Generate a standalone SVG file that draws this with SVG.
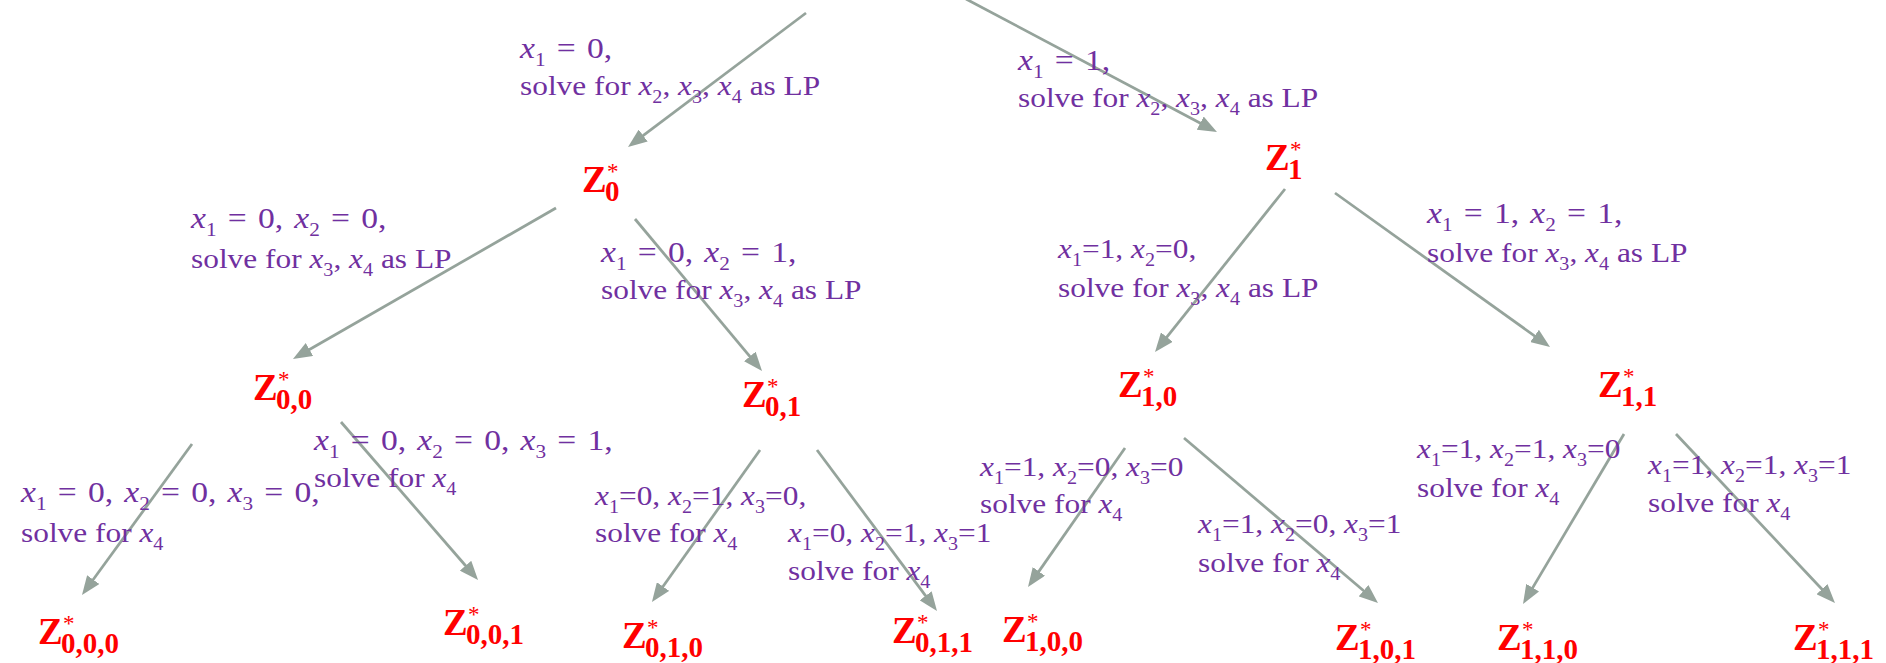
<svg xmlns="http://www.w3.org/2000/svg" width="1886" height="663" viewBox="0 0 1886 663">
<style>
.lbl text{font-family:'Liberation Serif','Times New Roman',serif;font-size:28px;fill:#7030A0}
.lbl text.m{font-size:30px;word-spacing:2.5px}
.i{font-style:italic}
.s{font-size:18px}
.m .s{font-size:19px}
.node text{font-family:'Liberation Serif','Times New Roman',serif;fill:#FF0000}
.z{font-size:37px;font-weight:bold}
.st{font-size:23px}
.zs{font-size:29px;font-weight:bold}
#connectors line{stroke:#95A39B;stroke-width:2.75;fill:none;marker-end:url(#ah)}
</style>
<defs>
<marker id="ah" markerUnits="userSpaceOnUse" markerWidth="19" markerHeight="15" viewBox="0 0 19 15" refX="11" refY="7.5" orient="auto">
<path d="M0,0 L19,7.5 L0,15 z" fill="#95A39B"/>
</marker>
</defs>
<rect width="1886" height="663" fill="#FFFFFF"/>

<g id="connectors">
<line x1="806" y1="13" x2="634.4" y2="142.2"/>
<line x1="966" y1="-1" x2="1209.9" y2="128.3"/>
<line x1="556" y1="208" x2="299.9" y2="355.0"/>
<line x1="635" y1="219" x2="756.9" y2="364.9"/>
<line x1="1285" y1="189" x2="1160.0" y2="345.7"/>
<line x1="1335" y1="193" x2="1543.5" y2="342.3"/>
<line x1="192" y1="444" x2="86.7" y2="588.5"/>
<line x1="341" y1="422" x2="472.8" y2="574.0"/>
<line x1="760" y1="450" x2="656.6" y2="595.5"/>
<line x1="817" y1="450" x2="932.2" y2="604.6"/>
<line x1="1125" y1="448" x2="1032.6" y2="580.4"/>
<line x1="1184" y1="438" x2="1371.9" y2="597.8"/>
<line x1="1624" y1="434" x2="1527.1" y2="597.1"/>
<line x1="1676" y1="434" x2="1829.5" y2="597.2"/>
</g>

<g id="edge-labels" class="lbl">
<g id="lbl-0" transform="translate(520 0) scale(1.12 1)">
<text y="58" class="m"><tspan class="i">x</tspan><tspan class="s" dy="8">1</tspan><tspan dy="-8"> = 0,</tspan></text>
<text y="95">solve for <tspan class="i">x</tspan><tspan class="s" dy="8">2</tspan><tspan dy="-8">, </tspan><tspan class="i">x</tspan><tspan class="s" dy="8">3</tspan><tspan dy="-8">, </tspan><tspan class="i">x</tspan><tspan class="s" dy="8">4</tspan><tspan dy="-8"> as LP</tspan></text>
</g>
<g id="lbl-1" transform="translate(1018 0) scale(1.12 1)">
<text y="70" class="m"><tspan class="i">x</tspan><tspan class="s" dy="8">1</tspan><tspan dy="-8"> = 1,</tspan></text>
<text y="107">solve for <tspan class="i">x</tspan><tspan class="s" dy="8">2</tspan><tspan dy="-8">, </tspan><tspan class="i">x</tspan><tspan class="s" dy="8">3</tspan><tspan dy="-8">, </tspan><tspan class="i">x</tspan><tspan class="s" dy="8">4</tspan><tspan dy="-8"> as LP</tspan></text>
</g>
<g id="lbl-00" transform="translate(191 0) scale(1.12 1)">
<text y="228" class="m"><tspan class="i">x</tspan><tspan class="s" dy="8">1</tspan><tspan dy="-8"> = 0, </tspan><tspan class="i">x</tspan><tspan class="s" dy="8">2</tspan><tspan dy="-8"> = 0,</tspan></text>
<text y="268">solve for <tspan class="i">x</tspan><tspan class="s" dy="8">3</tspan><tspan dy="-8">, </tspan><tspan class="i">x</tspan><tspan class="s" dy="8">4</tspan><tspan dy="-8"> as LP</tspan></text>
</g>
<g id="lbl-01" transform="translate(601 0) scale(1.12 1)">
<text y="262" class="m"><tspan class="i">x</tspan><tspan class="s" dy="8">1</tspan><tspan dy="-8"> = 0, </tspan><tspan class="i">x</tspan><tspan class="s" dy="8">2</tspan><tspan dy="-8"> = 1,</tspan></text>
<text y="299">solve for <tspan class="i">x</tspan><tspan class="s" dy="8">3</tspan><tspan dy="-8">, </tspan><tspan class="i">x</tspan><tspan class="s" dy="8">4</tspan><tspan dy="-8"> as LP</tspan></text>
</g>
<g id="lbl-10" transform="translate(1058 0) scale(1.12 1)">
<text y="258"><tspan class="i">x</tspan><tspan class="s" dy="8">1</tspan><tspan dy="-8">=1, </tspan><tspan class="i">x</tspan><tspan class="s" dy="8">2</tspan><tspan dy="-8">=0,</tspan></text>
<text y="297">solve for <tspan class="i">x</tspan><tspan class="s" dy="8">3</tspan><tspan dy="-8">, </tspan><tspan class="i">x</tspan><tspan class="s" dy="8">4</tspan><tspan dy="-8"> as LP</tspan></text>
</g>
<g id="lbl-11" transform="translate(1427 0) scale(1.12 1)">
<text y="223" class="m"><tspan class="i">x</tspan><tspan class="s" dy="8">1</tspan><tspan dy="-8"> = 1, </tspan><tspan class="i">x</tspan><tspan class="s" dy="8">2</tspan><tspan dy="-8"> = 1,</tspan></text>
<text y="262">solve for <tspan class="i">x</tspan><tspan class="s" dy="8">3</tspan><tspan dy="-8">, </tspan><tspan class="i">x</tspan><tspan class="s" dy="8">4</tspan><tspan dy="-8"> as LP</tspan></text>
</g>
<g id="lbl-000" transform="translate(21 0) scale(1.12 1)">
<text y="502" class="m"><tspan class="i">x</tspan><tspan class="s" dy="8">1</tspan><tspan dy="-8"> = 0, </tspan><tspan class="i">x</tspan><tspan class="s" dy="8">2</tspan><tspan dy="-8"> = 0, </tspan><tspan class="i">x</tspan><tspan class="s" dy="8">3</tspan><tspan dy="-8"> = 0,</tspan></text>
<text y="542">solve for <tspan class="i">x</tspan><tspan class="s" dy="8">4</tspan></text>
</g>
<g id="lbl-001" transform="translate(314 0) scale(1.12 1)">
<text y="450" class="m"><tspan class="i">x</tspan><tspan class="s" dy="8">1</tspan><tspan dy="-8"> = 0, </tspan><tspan class="i">x</tspan><tspan class="s" dy="8">2</tspan><tspan dy="-8"> = 0, </tspan><tspan class="i">x</tspan><tspan class="s" dy="8">3</tspan><tspan dy="-8"> = 1,</tspan></text>
<text y="487">solve for <tspan class="i">x</tspan><tspan class="s" dy="8">4</tspan></text>
</g>
<g id="lbl-010" transform="translate(595 0) scale(1.12 1)">
<text y="505"><tspan class="i">x</tspan><tspan class="s" dy="8">1</tspan><tspan dy="-8">=0, </tspan><tspan class="i">x</tspan><tspan class="s" dy="8">2</tspan><tspan dy="-8">=1, </tspan><tspan class="i">x</tspan><tspan class="s" dy="8">3</tspan><tspan dy="-8">=0,</tspan></text>
<text y="542">solve for <tspan class="i">x</tspan><tspan class="s" dy="8">4</tspan></text>
</g>
<g id="lbl-011" transform="translate(788 0) scale(1.12 1)">
<text y="542"><tspan class="i">x</tspan><tspan class="s" dy="8">1</tspan><tspan dy="-8">=0, </tspan><tspan class="i">x</tspan><tspan class="s" dy="8">2</tspan><tspan dy="-8">=1, </tspan><tspan class="i">x</tspan><tspan class="s" dy="8">3</tspan><tspan dy="-8">=1</tspan></text>
<text y="580">solve for <tspan class="i">x</tspan><tspan class="s" dy="8">4</tspan></text>
</g>
<g id="lbl-100" transform="translate(980 0) scale(1.12 1)">
<text y="476"><tspan class="i">x</tspan><tspan class="s" dy="8">1</tspan><tspan dy="-8">=1, </tspan><tspan class="i">x</tspan><tspan class="s" dy="8">2</tspan><tspan dy="-8">=0, </tspan><tspan class="i">x</tspan><tspan class="s" dy="8">3</tspan><tspan dy="-8">=0</tspan></text>
<text y="513">solve for <tspan class="i">x</tspan><tspan class="s" dy="8">4</tspan></text>
</g>
<g id="lbl-101" transform="translate(1198 0) scale(1.12 1)">
<text y="533"><tspan class="i">x</tspan><tspan class="s" dy="8">1</tspan><tspan dy="-8">=1, </tspan><tspan class="i">x</tspan><tspan class="s" dy="8">2</tspan><tspan dy="-8">=0, </tspan><tspan class="i">x</tspan><tspan class="s" dy="8">3</tspan><tspan dy="-8">=1</tspan></text>
<text y="572">solve for <tspan class="i">x</tspan><tspan class="s" dy="8">4</tspan></text>
</g>
<g id="lbl-110" transform="translate(1417 0) scale(1.12 1)">
<text y="458"><tspan class="i">x</tspan><tspan class="s" dy="8">1</tspan><tspan dy="-8">=1, </tspan><tspan class="i">x</tspan><tspan class="s" dy="8">2</tspan><tspan dy="-8">=1, </tspan><tspan class="i">x</tspan><tspan class="s" dy="8">3</tspan><tspan dy="-8">=0</tspan></text>
<text y="497">solve for <tspan class="i">x</tspan><tspan class="s" dy="8">4</tspan></text>
</g>
<g id="lbl-111" transform="translate(1648 0) scale(1.12 1)">
<text y="474"><tspan class="i">x</tspan><tspan class="s" dy="8">1</tspan><tspan dy="-8">=1, </tspan><tspan class="i">x</tspan><tspan class="s" dy="8">2</tspan><tspan dy="-8">=1, </tspan><tspan class="i">x</tspan><tspan class="s" dy="8">3</tspan><tspan dy="-8">=1</tspan></text>
<text y="512">solve for <tspan class="i">x</tspan><tspan class="s" dy="8">4</tspan></text>
</g>
</g>

<g id="node-z0" class="node"><text x="582" y="192" class="z">Z</text><text x="607" y="179" class="st">*</text><text x="605" y="201" class="zs">0</text></g>
<g id="node-z1" class="node"><text x="1265" y="170" class="z">Z</text><text x="1290" y="157" class="st">*</text><text x="1288" y="179" class="zs">1</text></g>
<g id="node-z00" class="node"><text x="253" y="400" class="z">Z</text><text x="278" y="387" class="st">*</text><text x="276" y="409" class="zs">0,0</text></g>
<g id="node-z01" class="node"><text x="742" y="407" class="z">Z</text><text x="767" y="394" class="st">*</text><text x="765" y="416" class="zs">0,1</text></g>
<g id="node-z10" class="node"><text x="1118" y="397" class="z">Z</text><text x="1143" y="384" class="st">*</text><text x="1141" y="406" class="zs">1,0</text></g>
<g id="node-z11" class="node"><text x="1598" y="397" class="z">Z</text><text x="1623" y="384" class="st">*</text><text x="1621" y="406" class="zs">1,1</text></g>
<g id="node-z000" class="node"><text x="38" y="644" class="z">Z</text><text x="63" y="631" class="st">*</text><text x="61" y="653" class="zs">0,0,0</text></g>
<g id="node-z001" class="node"><text x="443" y="635" class="z">Z</text><text x="468" y="622" class="st">*</text><text x="466" y="644" class="zs">0,0,1</text></g>
<g id="node-z010" class="node"><text x="622" y="648" class="z">Z</text><text x="647" y="635" class="st">*</text><text x="645" y="657" class="zs">0,1,0</text></g>
<g id="node-z011" class="node"><text x="892" y="643" class="z">Z</text><text x="917" y="630" class="st">*</text><text x="915" y="652" class="zs">0,1,1</text></g>
<g id="node-z100" class="node"><text x="1002" y="642" class="z">Z</text><text x="1027" y="629" class="st">*</text><text x="1025" y="651" class="zs">1,0,0</text></g>
<g id="node-z101" class="node"><text x="1335" y="650" class="z">Z</text><text x="1360" y="637" class="st">*</text><text x="1358" y="659" class="zs">1,0,1</text></g>
<g id="node-z110" class="node"><text x="1497" y="650" class="z">Z</text><text x="1522" y="637" class="st">*</text><text x="1520" y="659" class="zs">1,1,0</text></g>
<g id="node-z111" class="node"><text x="1793" y="650" class="z">Z</text><text x="1818" y="637" class="st">*</text><text x="1816" y="659" class="zs">1,1,1</text></g>
</svg>
